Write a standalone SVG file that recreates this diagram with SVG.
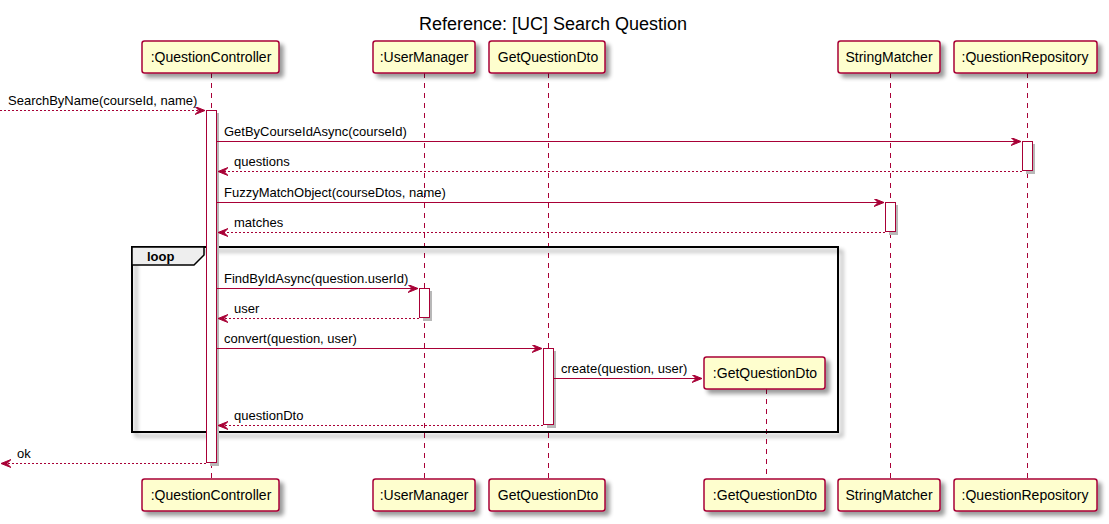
<svg xmlns="http://www.w3.org/2000/svg" width="1109" height="524" viewBox="0 0 1109 524">
<style>
.t{font-family:"Liberation Sans",Arial,sans-serif;fill:#000}
.title{font-size:18px}
.pn{font-size:14px;text-anchor:middle}
.ml{font-size:13px}
.box{fill:#FEFECE;stroke:#A80036;stroke-width:1.5}
.life{stroke:#A80036;stroke-width:1;stroke-dasharray:5,5;fill:none}
.act{fill:#FFFFFF;stroke:#A80036;stroke-width:1}
.ash{fill:#B8B8B8;stroke:none}
.msg{stroke:#A80036;stroke-width:1;fill:none;marker-end:url(#ah)}
.ret{stroke:#A80036;stroke-width:1;fill:none;stroke-dasharray:2,2;marker-end:url(#ah)}
.frame{fill:none;stroke:#000;stroke-width:2}
.tab{fill:#EEEEEE;stroke:#000;stroke-width:1.5}
</style>
<defs>
<filter id="sh" x="-10%" y="-20%" width="130%" height="160%">
<feGaussianBlur in="SourceAlpha" stdDeviation="2"/>
<feOffset dx="4" dy="4" result="o"/>
<feComponentTransfer><feFuncA type="linear" slope="0.4"/></feComponentTransfer>
<feMerge><feMergeNode/><feMergeNode in="SourceGraphic"/></feMerge>
</filter>
<marker id="ah" markerUnits="userSpaceOnUse" markerWidth="12" markerHeight="10" refX="10" refY="4" orient="auto">
<path d="M0,0 L10,4 L0,8 L4,4 Z" fill="#A80036" stroke="#A80036" stroke-width="1"/>
</marker>
</defs>
<rect width="1109" height="524" fill="#FFFFFF"/>
<text class="t title" x="553" y="30" text-anchor="middle">Reference: [UC] Search Question</text>

<g id="lifelines">
<line class="life" x1="211.5" y1="73" x2="211.5" y2="479"/>
<line class="life" x1="424.5" y1="73" x2="424.5" y2="479"/>
<line class="life" x1="548.5" y1="73" x2="548.5" y2="479"/>
<line class="life" x1="766.5" y1="389" x2="766.5" y2="479"/>
<line class="life" x1="890.5" y1="73" x2="890.5" y2="479"/>
<line class="life" x1="1027.5" y1="73" x2="1027.5" y2="479"/>
</g>

<g id="loop-frame">
<rect class="frame" x="132" y="247" width="706" height="185" filter="url(#sh)"/>
<polygon class="tab" points="132,247 204,247 204,255 194,265 132,265"/>
<text class="t ml" x="147" y="261" font-weight="bold">loop</text>
</g>

<g id="activations">
<rect class="ash" x="210" y="113" width="9" height="353"/>
<rect class="act" x="206.5" y="110.5" width="10" height="352"/>
<rect class="ash" x="1026" y="144" width="9" height="30"/>
<rect class="act" x="1022.5" y="141.5" width="10" height="29"/>
<rect class="ash" x="889" y="205" width="9" height="30"/>
<rect class="act" x="885.5" y="202.5" width="10" height="29"/>
<rect class="ash" x="423" y="291" width="9" height="30"/>
<rect class="act" x="419.5" y="288.5" width="10" height="29"/>
<rect class="ash" x="547" y="351" width="9" height="77"/>
<rect class="act" x="543.5" y="348.5" width="10" height="76"/>
</g>

<g id="QuestionController">
<rect class="box" x="142" y="41" width="137" height="32" rx="2.5" filter="url(#sh)"/>
<text class="t pn" x="211" y="62">:QuestionController</text>
<rect class="box" x="142" y="479" width="137" height="32" rx="2.5" filter="url(#sh)"/>
<text class="t pn" x="211" y="500">:QuestionController</text>
</g>
<g id="UserManager">
<rect class="box" x="373" y="41" width="102" height="32" rx="2.5" filter="url(#sh)"/>
<text class="t pn" x="424" y="62">:UserManager</text>
<rect class="box" x="373" y="479" width="102" height="32" rx="2.5" filter="url(#sh)"/>
<text class="t pn" x="424" y="500">:UserManager</text>
</g>
<g id="GetQuestionDto">
<rect class="box" x="489" y="41" width="116" height="32" rx="2.5" filter="url(#sh)"/>
<text class="t pn" x="548" y="62">GetQuestionDto</text>
<rect class="box" x="489" y="479" width="116" height="32" rx="2.5" filter="url(#sh)"/>
<text class="t pn" x="548" y="500">GetQuestionDto</text>
</g>
<g id="GetQuestionDtoInstance">
<rect class="box" x="704" y="357" width="121" height="32" rx="2.5" filter="url(#sh)"/>
<text class="t pn" x="765" y="378">:GetQuestionDto</text>
<rect class="box" x="704" y="479" width="121" height="32" rx="2.5" filter="url(#sh)"/>
<text class="t pn" x="765" y="500">:GetQuestionDto</text>
</g>
<g id="StringMatcher">
<rect class="box" x="838" y="41" width="102" height="32" rx="2.5" filter="url(#sh)"/>
<text class="t pn" x="889" y="62">StringMatcher</text>
<rect class="box" x="838" y="479" width="102" height="32" rx="2.5" filter="url(#sh)"/>
<text class="t pn" x="889" y="500">StringMatcher</text>
</g>
<g id="QuestionRepository">
<rect class="box" x="954" y="41" width="143" height="32" rx="2.5" filter="url(#sh)"/>
<text class="t pn" x="1025" y="62">:QuestionRepository</text>
<rect class="box" x="954" y="479" width="143" height="32" rx="2.5" filter="url(#sh)"/>
<text class="t pn" x="1025" y="500">:QuestionRepository</text>
</g>

<g id="connectors">
<line class="ret" x1="0" y1="110.5" x2="205" y2="110.5"/>
<text class="t ml" x="8" y="105">SearchByName(courseId, name)</text>
<line class="msg" x1="217" y1="141.5" x2="1021" y2="141.5"/>
<text class="t ml" x="224" y="136">GetByCourseIdAsync(courseId)</text>
<line class="ret" x1="1022" y1="171.5" x2="218" y2="171.5"/>
<text class="t ml" x="234" y="166">questions</text>
<line class="msg" x1="217" y1="202.5" x2="884" y2="202.5"/>
<text class="t ml" x="224" y="197">FuzzyMatchObject(courseDtos, name)</text>
<line class="ret" x1="885" y1="232.5" x2="218" y2="232.5"/>
<text class="t ml" x="234" y="227">matches</text>
<line class="msg" x1="217" y1="288.5" x2="418" y2="288.5"/>
<text class="t ml" x="224" y="283">FindByIdAsync(question.userId)</text>
<line class="ret" x1="419" y1="318.5" x2="218" y2="318.5"/>
<text class="t ml" x="234" y="313">user</text>
<line class="msg" x1="217" y1="348.5" x2="542" y2="348.5"/>
<text class="t ml" x="224" y="343">convert(question, user)</text>
<line class="msg" x1="553" y1="378.5" x2="702" y2="378.5"/>
<text class="t ml" x="561" y="373">create(question, user)</text>
<line class="ret" x1="543" y1="425.5" x2="218" y2="425.5"/>
<text class="t ml" x="234" y="420">questionDto</text>
<line class="ret" x1="206" y1="463.5" x2="1" y2="463.5"/>
<text class="t ml" x="17" y="458">ok</text>
</g>
</svg>
